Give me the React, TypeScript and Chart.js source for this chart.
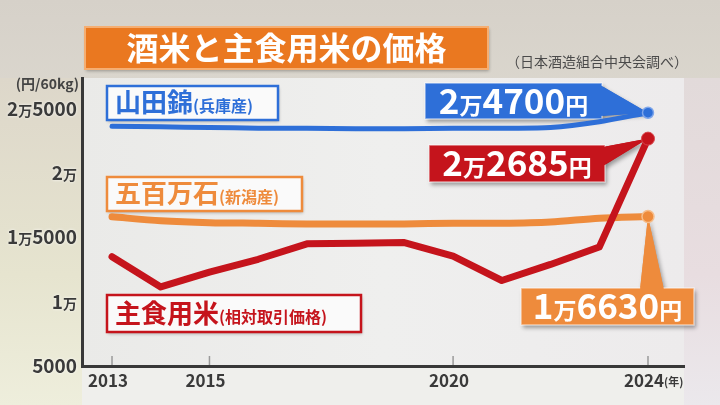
import React, { useEffect, useRef } from "react";
import { Chart, registerables } from "chart.js";

Chart.register(...registerables);

// ---- data ----
const years = [2013, 2014, 2015, 2016, 2017, 2018, 2019, 2020, 2021, 2022, 2023, 2024];
const yamadanishiki = [23650, 23600, 23550, 23500, 23500, 23450, 23450, 23500, 23500, 23550, 24000, 24700];
const gohyakumangoku = [16600, 16300, 16150, 16100, 16050, 16050, 16050, 16100, 16100, 16200, 16500, 16630];
const shushokumai = [13500, 11150, 12300, 13300, 14500, 14550, 14600, 13550, 11650, 12900, 14250, 22685];
const yTickValues = [5000, 10000, 15000, 20000, 25000];
const xTickYears = [2013, 2015, 2020, 2024];
const seriesNames = ["山田錦", "五百万石", "主食用米"];
const seriesNotes = ["(兵庫産)", "(新潟産)", "(相対取引価格)"];
const titleText = "酒米と主食用米の価格";
const sourceText = "（日本酒造組合中央会調べ）";
const unitText = "(円/60kg)";
const yearUnit = "(年)";

const BLUE = "#2E6FD8";
const ORANGE = "#EE8B3C";
const RED = "#C5141C";
const FONT = '"Noto Sans CJK JP", "Noto Sans CJK SC", sans-serif';

type Part = [string, number];

function fmtMan(v: number, yen: boolean): string {
  const man = Math.floor(v / 10000);
  const rest = v % 10000;
  let s = (man ? man + "万" : "") + (rest ? String(rest) : "");
  if (yen) s += "円";
  return s;
}

function splitParts(label: string, big: number, small: number): Part[] {
  const out: Part[] = [];
  let buf = "";
  for (const ch of label) {
    if (ch === "万" || ch === "円") {
      if (buf) out.push([buf, big]);
      buf = "";
      out.push([ch, small]);
    } else buf += ch;
  }
  if (buf) out.push([buf, big]);
  return out;
}

function drawRich(ctx: CanvasRenderingContext2D, parts: Part[], x: number, y: number, align: string, color: string) {
  let w = 0;
  for (const [t, s] of parts) {
    ctx.font = `bold ${s}px ${FONT}`;
    w += ctx.measureText(t).width;
  }
  let cx = align === "center" ? x - w / 2 : align === "right" ? x - w : x;
  ctx.fillStyle = color;
  ctx.textAlign = "left";
  ctx.textBaseline = "alphabetic";
  for (const [t, s] of parts) {
    ctx.font = `bold ${s}px ${FONT}`;
    ctx.fillText(t, cx, y);
    cx += ctx.measureText(t).width;
  }
}

function pointPos(chart: any, dsIndex: number, i: number) {
  const el = chart.getDatasetMeta(dsIndex).data[i];
  return { x: el.x, y: el.y };
}

function drawCallout(
  ctx: CanvasRenderingContext2D,
  box: { x: number; y: number; w: number; h: number },
  tri: number[][],
  fill: string,
  label: string,
  baseline: number
) {
  ctx.save();
  ctx.shadowColor = "rgba(0,0,0,0.35)";
  ctx.shadowBlur = 4;
  ctx.shadowOffsetX = 2;
  ctx.shadowOffsetY = 3;
  ctx.fillStyle = fill;
  ctx.beginPath();
  ctx.moveTo(tri[0][0], tri[0][1]);
  ctx.lineTo(tri[1][0], tri[1][1]);
  ctx.lineTo(tri[2][0], tri[2][1]);
  ctx.closePath();
  ctx.fill();
  ctx.fillRect(box.x, box.y, box.w, box.h);
  ctx.restore();
  ctx.save();
  ctx.strokeStyle = "rgba(255,255,255,0.55)";
  ctx.lineWidth = 1.5;
  ctx.strokeRect(box.x, box.y, box.w, box.h);
  ctx.fillStyle = fill;
  ctx.beginPath();
  ctx.moveTo(tri[0][0], tri[0][1]);
  ctx.lineTo(tri[1][0], tri[1][1]);
  ctx.lineTo(tri[2][0], tri[2][1]);
  ctx.closePath();
  ctx.fill();
  ctx.fillRect(box.x + 1, box.y + 1, box.w - 2, box.h - 2);
  drawRich(ctx, splitParts(label, 35, 23), box.x + box.w / 2, baseline, "center", "#FFFFFF");
  ctx.restore();
}

function drawLegendBox(
  ctx: CanvasRenderingContext2D,
  x: number, y: number, w: number, h: number,
  color: string, name: string, note: string, baseline: number
) {
  ctx.save();
  ctx.shadowColor = "rgba(0,0,0,0.25)";
  ctx.shadowBlur = 3;
  ctx.shadowOffsetX = 1;
  ctx.shadowOffsetY = 2;
  ctx.fillStyle = "#FAFAFA";
  ctx.fillRect(x, y, w, h);
  ctx.restore();
  ctx.save();
  ctx.strokeStyle = color;
  ctx.lineWidth = 2.5;
  ctx.strokeRect(x, y, w, h);
  drawRich(ctx, [[name, 26], [note, 16]], x + 8, baseline, "left", color);
  ctx.restore();
}

const bgPlugin = {
  id: "bgPlugin",
  beforeDraw(chart: any) {
    const { ctx, chartArea: a, width, height } = chart;
    ctx.save();
    const g = ctx.createLinearGradient(0, 0, 0, height);
    g.addColorStop(0, "#D6D1C9");
    g.addColorStop(0.3, "#DCD8CF");
    g.addColorStop(1, "#EDECE4");
    ctx.fillStyle = g;
    ctx.fillRect(0, 0, width, height);
    const gl = ctx.createLinearGradient(0, a.top, 0, height);
    gl.addColorStop(0, "#DDD7CA");
    gl.addColorStop(0.6, "#E6E4CF");
    gl.addColorStop(1, "#EEEEDC");
    ctx.fillStyle = gl;
    ctx.fillRect(0, a.top, a.left, height - a.top);
    const gr = ctx.createLinearGradient(0, a.top, 0, height);
    gr.addColorStop(0, "#E2DADA");
    gr.addColorStop(0.6, "#E8DDE0");
    gr.addColorStop(1, "#EBE8EC");
    ctx.fillStyle = gr;
    ctx.fillRect(a.right, a.top, width - a.right, height - a.top);
    const gp = ctx.createLinearGradient(a.left, 0, a.right, 0);
    gp.addColorStop(0, "#EAEAE8");
    gp.addColorStop(0.5, "#EFEFEE");
    gp.addColorStop(1, "#EDEBEC");
    ctx.fillStyle = gp;
    ctx.fillRect(a.left, a.top, a.right - a.left, a.bottom - a.top);
    ctx.fillStyle = "#EFEFEC";
    ctx.fillRect(a.left, a.bottom, a.right - a.left, height - a.bottom);
    ctx.restore();
  },
};

const overlayPlugin = {
  id: "overlayPlugin",
  beforeDatasetsDraw(chart: any) {
    const { ctx, chartArea: a } = chart;
    const xs = chart.scales.x;
    const ys = chart.scales.y;
    ctx.save();

    // x tick marks inside
    ctx.strokeStyle = "#9A9A9A";
    ctx.lineWidth = 1.5;
    for (const yr of xTickYears) {
      const px = xs.getPixelForValue(yr);
      ctx.beginPath();
      ctx.moveTo(px, a.bottom - 10);
      ctx.lineTo(px, a.bottom - 1);
      ctx.stroke();
    }

    // title
    ctx.save();
    ctx.shadowColor = "rgba(0,0,0,0.3)";
    ctx.shadowBlur = 3;
    ctx.shadowOffsetX = 1;
    ctx.shadowOffsetY = 2;
    ctx.fillStyle = "#EA7820";
    ctx.fillRect(85, 27, 403, 42);
    ctx.restore();
    ctx.strokeStyle = "#F5AE72";
    ctx.lineWidth = 2;
    ctx.strokeRect(85, 27, 403, 42);
    ctx.fillStyle = "#FFFFFF";
    ctx.font = `bold 32px ${FONT}`;
    ctx.textAlign = "center";
    ctx.textBaseline = "middle";
    ctx.fillText(titleText, 286.5, 48);

    // source
    ctx.fillStyle = "#4A4A4A";
    ctx.font = `14px ${FONT}`;
    ctx.textAlign = "right";
    ctx.textBaseline = "middle";
    ctx.fillText(sourceText, 688, 62);

    // unit
    ctx.fillStyle = "#444444";
    ctx.font = `bold 14px ${FONT}`;
    ctx.textAlign = "right";
    ctx.fillText(unitText, 79, 84);

    // y labels
    ctx.save();
    ctx.shadowColor = "rgba(255,255,255,0.9)";
    ctx.shadowBlur = 3;
    for (const v of yTickValues) {
      const py = ys.getPixelForValue(v);
      drawRich(ctx, splitParts(fmtMan(v, false), 19, 14), 77, py + 7, "right", "#3A3A3A");
    }
    ctx.restore();

    // x labels
    for (const yr of xTickYears) {
      const px = xs.getPixelForValue(yr);
      ctx.fillStyle = "#3A3A3A";
      ctx.font = `bold 17px ${FONT}`;
      ctx.textAlign = "center";
      ctx.textBaseline = "alphabetic";
      ctx.fillText(String(yr), px - 4, 387);
    }
    ctx.font = `bold 11px ${FONT}`;
    ctx.textAlign = "left";
    ctx.fillText(yearUnit, 664, 386);

    // legend boxes
    drawLegendBox(ctx, 107, 86, 171, 34, BLUE, seriesNames[0], seriesNotes[0], 112);
    drawLegendBox(ctx, 107, 177, 195, 34, ORANGE, seriesNames[1], seriesNotes[1], 203);
    drawLegendBox(ctx, 107, 295, 254, 37, RED, seriesNames[2], seriesNotes[2], 323);

    // callouts
    const last = years.length - 1;
    const pb = pointPos(chart, 1, last);
    const pr = pointPos(chart, 0, last);
    const po = pointPos(chart, 2, last);
    drawCallout(ctx, { x: 425, y: 83, w: 177, h: 36 }, [[600, 85], [600, 116], [pb.x, pb.y]], BLUE, fmtMan(yamadanishiki[last], true), 113.5);
    drawCallout(ctx, { x: 429, y: 145, w: 176, h: 37 }, [[603, 147], [603, 166], [pr.x, pr.y]], RED, fmtMan(shushokumai[last], true), 176);
    drawCallout(ctx, { x: 521, y: 288, w: 173, h: 37 }, [[640, 290], [664, 290], [po.x, po.y]], ORANGE, fmtMan(gohyakumangoku[last], true), 319);

    ctx.restore();
  },
};

export default function App() {
  const ref = useRef<HTMLCanvasElement | null>(null);
  useEffect(() => {
    if (!ref.current) return;
    const last = years.length - 1;
    const radius = (r: number) => (c: any) => (c.dataIndex === last ? r : 0);
    const chart = new Chart(ref.current, {
      type: "line",
      data: {
        datasets: [
          {
            label: seriesNames[2],
            data: years.map((x, i) => ({ x, y: shushokumai[i] })),
            borderColor: RED,
            backgroundColor: RED,
            borderWidth: 7,
            borderCapStyle: "round",
            borderJoinStyle: "round",
            pointRadius: radius(6.5),
            pointBackgroundColor: RED,
            pointBorderColor: "#D8454B",
            pointBorderWidth: 1,
            tension: 0,
          },
          {
            label: seriesNames[0],
            data: years.map((x, i) => ({ x, y: yamadanishiki[i] })),
            borderColor: BLUE,
            backgroundColor: BLUE,
            borderWidth: 5,
            borderCapStyle: "round",
            borderJoinStyle: "round",
            pointRadius: radius(5.5),
            pointBackgroundColor: BLUE,
            pointBorderColor: "#7FA6EA",
            pointBorderWidth: 1.5,
            tension: 0.3,
          },
          {
            label: seriesNames[1],
            data: years.map((x, i) => ({ x, y: gohyakumangoku[i] })),
            borderColor: ORANGE,
            backgroundColor: ORANGE,
            borderWidth: 7,
            borderCapStyle: "round",
            borderJoinStyle: "round",
            pointRadius: radius(6),
            pointBackgroundColor: ORANGE,
            pointBorderColor: "#F6BE8C",
            pointBorderWidth: 1.5,
            tension: 0.3,
          },
        ],
      } as any,
      options: {
        animation: false,
        responsive: false,
        maintainAspectRatio: false,
        layout: { padding: { left: 82, top: 78, right: 36, bottom: 39 } },
        plugins: {
          legend: { display: false },
          tooltip: { enabled: false },
          title: { display: false },
        },
        scales: {
          x: {
            type: "linear",
            min: 2012.384,
            max: 2024.739,
            ticks: { display: false },
            grid: { display: false, drawTicks: false },
            border: { display: true, color: "#383838", width: 3 },
          },
          y: {
            type: "linear",
            min: 5000,
            max: 27400,
            ticks: { display: false, stepSize: 5000 },
            grid: {
              drawTicks: false,
              lineWidth: 2,
              color: (c: any) =>
                c.tick && c.tick.value > 5000 && c.tick.value % 5000 === 0 && c.tick.value <= 25000
                  ? "#AAAAAA"
                  : "rgba(0,0,0,0)",
            },
            border: { display: true, color: "#383838", width: 3 },
          },
        },
      } as any,
      plugins: [bgPlugin, overlayPlugin],
    });
    return () => chart.destroy();
  }, []);
  return (
    <div style={{ position: "fixed", left: 0, top: 0, width: 720, height: 405 }}>
      <canvas ref={ref} width={720} height={405} style={{ display: "block", width: 720, height: 405 }} />
    </div>
  );
}
